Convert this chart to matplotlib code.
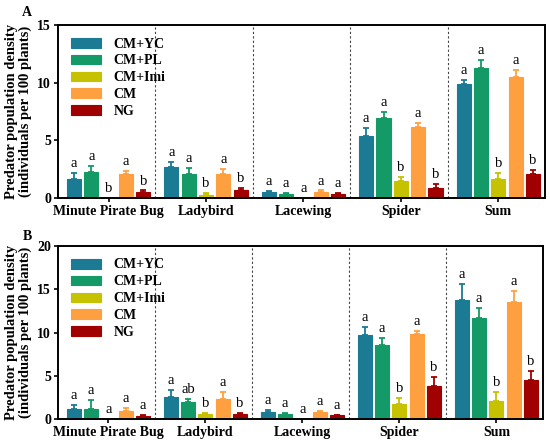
import numpy as np
import matplotlib
matplotlib.use("Agg")
from matplotlib import pyplot as plt

plt.rcParams['font.family'] = ['Liberation Serif', 'DejaVu Serif']

groups = ['Minute Pirate Bug', 'Ladybird', 'Lacewing', 'Spider', 'Sum']
treatments = ['CM+YC', 'CM+PL', 'CM+Imi', 'CM', 'NG']
colors = ['#1b7a94', '#139a66', '#c6c200', '#ffa040', '#a00000']

# panel A: means and standard errors, rows = treatments, columns = groups
a_mean = [
    [1.68, 2.69, 0.50, 5.35, 9.86],
    [2.25, 2.11, 0.35, 6.94, 11.27],
    [0.00, 0.29, 0.00, 1.50, 1.68],
    [2.11, 2.11, 0.52, 6.13, 10.49],
    [0.52, 0.69, 0.32, 0.90, 2.11],
]
a_err = [
    [0.49, 0.43, 0.15, 0.69, 0.40],
    [0.55, 0.49, 0.11, 0.49, 0.67],
    [0.00, 0.14, 0.00, 0.32, 0.46],
    [0.23, 0.40, 0.14, 0.34, 0.58],
    [0.14, 0.18, 0.11, 0.31, 0.35],
]
a_letters = [
    ['a', 'a', 'a', 'a', 'a'],
    ['a', 'a', 'a', 'a', 'a'],
    ['b', 'b', 'a', 'b', 'b'],
    ['a', 'a', 'a', 'a', 'a'],
    ['b', 'b', 'a', 'b', 'b'],
]

# panel B
b_mean = [
    [1.19, 2.54, 0.77, 9.69, 13.73],
    [1.19, 1.96, 0.58, 8.54, 11.73],
    [0.00, 0.58, 0.00, 1.73, 2.12],
    [0.96, 2.35, 0.77, 9.88, 13.54],
    [0.31, 0.58, 0.42, 3.77, 4.54],
]
b_err = [
    [0.43, 0.77, 0.27, 1.00, 1.85],
    [0.96, 0.39, 0.11, 0.77, 1.15],
    [0.00, 0.11, 0.00, 0.69, 0.96],
    [0.27, 0.77, 0.11, 0.31, 1.23],
    [0.15, 0.15, 0.08, 1.08, 1.04],
]
b_letters = [
    ['a', 'a', 'a', 'a', 'a'],
    ['a', 'ab', 'a', 'a', 'a'],
    ['a', 'b', 'a', 'b', 'b'],
    ['a', 'a', 'a', 'a', 'a'],
    ['a', 'b', 'a', 'b', 'b'],
]

fig = plt.figure(figsize=(5.5, 4.45), dpi=100)
ax_a = fig.add_axes([58 / 550, 1 - 198 / 445, 487 / 550, 173 / 445])
ax_b = fig.add_axes([58 / 550, 1 - 419 / 445, 485 / 550, 173 / 445])


def draw_panel(ax, means, errs, letters, ymax, step, offset):
    x = np.arange(len(groups)) + 0.52
    w = 0.145
    sp = 0.178
    for j, t in enumerate(treatments):
        pos = x + (j - 2) * sp
        m = np.array(means[j])
        e = np.array(errs[j])
        ax.bar(pos, m, width=w, color=colors[j], edgecolor=colors[j],
               linewidth=0.8, label=t, zorder=2)
        keep = m > 0
        ax.errorbar(pos[keep], m[keep], yerr=[np.zeros(keep.sum()), e[keep]],
                    fmt='none', ecolor=colors[j], elinewidth=1.3, capsize=2.5,
                    capthick=1.3, zorder=3)
        for k in range(len(groups)):
            ax.text(pos[k], m[k] + e[k] + offset, letters[j][k],
                    ha='center', va='bottom', fontsize=10.5)
    for s in range(1, len(groups)):
        ax.axvline(s, color='#444444', linestyle=(0, (2, 2)), linewidth=0.8, zorder=1)
    ax.set_xlim(0, len(groups))
    ax.set_ylim(0, ymax)
    ax.set_yticks(np.arange(0, ymax + 0.1, step))
    ax.set_xticks(x)
    ax.set_xticklabels(groups, fontweight='bold', fontsize=10)
    for lbl in ax.get_yticklabels():
        lbl.set_fontweight('bold')
        lbl.set_fontsize(10)
    ax.tick_params(axis='both', width=1.2, length=3, pad=2)
    for sp_ in ax.spines.values():
        sp_.set_linewidth(1.4)
    ax.set_ylabel('Predator population density\n(individuals per 100 plants)',
                  fontweight='bold', fontsize=10.5, labelpad=4, linespacing=1.0)
    ax.legend(loc='upper left', frameon=False, prop={'weight': 'bold', 'size': 10},
              handlelength=2.2, handleheight=0.7, labelspacing=0.28,
              bbox_to_anchor=(0.0, 1.0), handletextpad=0.9)


draw_panel(ax_a, a_mean, a_err, a_letters, 15, 5, 0.25)
draw_panel(ax_b, b_mean, b_err, b_letters, 20, 5, 0.35)

fig.text(27 / 550, 1 - 12 / 445, 'A', fontweight='bold', fontsize=10, ha='center', va='center')
fig.text(27 / 550, 1 - 236 / 445, 'B', fontweight='bold', fontsize=10, ha='center', va='center')

fig.savefig('out.png', dpi=100)
